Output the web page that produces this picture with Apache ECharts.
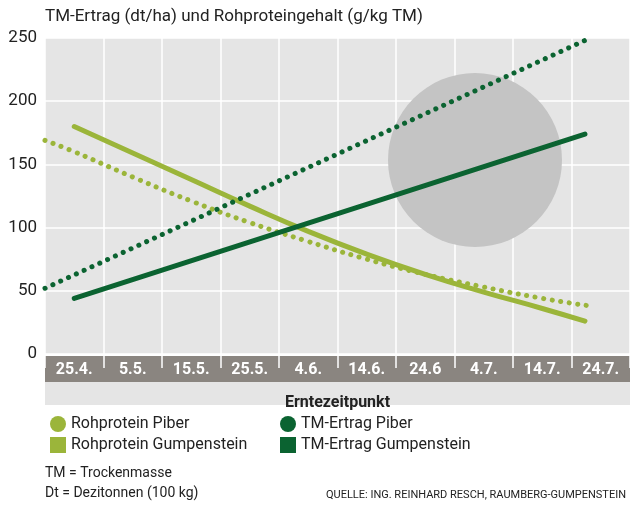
<!DOCTYPE html>
<html>
<head>
<meta charset="utf-8">
<script src="https://cdn.jsdelivr.net/npm/echarts@6/dist/echarts.min.js"></script>
<style>html,body{margin:0;padding:0;background:#fff}#chart{width:636px;height:510px}</style>
</head>
<body>
<div id="chart"></div>
<script>
// Erntezeitpunkte (Kategorien)
var dates = ['25.4.', '5.5.', '15.5.', '25.5.', '4.6.', '14.6.', '24.6', '4.7.', '14.7.', '24.7.'];

// Rohprotein Piber (gepunktet) - Position auf Kategorieachse, Wert
var rpPiberX = [-0.5, 0, 1, 2, 3, 4, 5, 6, 7, 8, 8.82];
var rpPiberY = [169, 160, 140, 121, 104, 89, 75, 63, 53, 44, 38];
// Rohprotein Gumpenstein (durchgezogen)
var rpGumpX = [0, 1, 2, 3, 4, 5, 6, 7, 8, 8.73];
var rpGumpY = [180, 159, 138, 117, 97, 79, 63, 49, 36, 26];
// TM-Ertrag Piber (gepunktet)
var tmPiberX = [-0.5, 8.82];
var tmPiberY = [52, 250];
// TM-Ertrag Gumpenstein (durchgezogen)
var tmGumpX = [0, 8.73];
var tmGumpY = [44, 174];

var light = '#9bb53a';
var dark = '#0b6331';
var font = 'Roboto';

function pairs(xs, ys) {
    return xs.map(function (x, i) { return [x, ys[i]]; });
}

var chart = echarts.init(document.getElementById('chart'));
var option = {
    animation: false,
    textStyle: { fontFamily: font },
    grid: {
        left: 45, right: 6, top: 38, bottom: 156,
        show: true, backgroundColor: '#e5e5e5', borderWidth: 0
    },
    graphic: [
        // Hintergrund-Baum (vereinfacht)
        { type: 'circle', shape: { cx: 475, cy: 160, r: 87 }, style: { fill: '#c4c4c4' }, z: 1 },
        { type: 'rect', shape: { x: 45, y: 356, width: 585, height: 26 }, style: { fill: '#8a8580' }, z: -1 },
        { type: 'rect', shape: { x: 45, y: 382, width: 585, height: 23 }, style: { fill: '#e5e5e5' }, z: -1 },
        { type: 'text', left: 45, top: 8, style: { text: 'TM-Ertrag (dt/ha) und Rohproteingehalt (g/kg TM)', font: '17px ' + font, fill: '#222' } },
        { type: 'text', left: 45, top: 466, style: { text: 'TM = Trockenmasse', font: '14px ' + font, fill: '#222' } },
        { type: 'text', left: 45, top: 486, style: { text: 'Dt = Dezitonnen (100 kg)', font: '14px ' + font, fill: '#222' } },
        { type: 'text', right: 10, top: 490, style: { text: 'QUELLE: ING. REINHARD RESCH, RAUMBERG-GUMPENSTEIN', font: '11px ' + font, fill: '#222' } }
    ],
    legend: [{
        left: 45, top: 411, orient: 'vertical', itemGap: 5, itemWidth: 16, itemHeight: 16,
        textStyle: { fontSize: 16, color: '#222', fontFamily: font },
        data: [{ name: 'Rohprotein Piber', icon: 'circle' }, { name: 'Rohprotein Gumpenstein', icon: 'rect' }]
    }, {
        left: 275, top: 411, orient: 'vertical', itemGap: 5, itemWidth: 16, itemHeight: 16,
        textStyle: { fontSize: 16, color: '#222', fontFamily: font },
        data: [{ name: 'TM-Ertrag Piber', icon: 'circle' }, { name: 'TM-Ertrag Gumpenstein', icon: 'rect' }]
    }],
    xAxis: [{
        type: 'category', data: dates, boundaryGap: true, position: 'bottom', offset: 6,
        name: 'Erntezeitpunkt', nameLocation: 'middle', nameGap: 35,
        nameTextStyle: { fontSize: 16, fontWeight: 'bold', color: '#222', fontFamily: font },
        axisLine: { show: false },
        axisTick: { show: true, inside: false, length: 14, lineStyle: { color: '#fff', width: 1.5 } },
        axisLabel: { color: '#fff', fontSize: 16, margin: 2, fontFamily: font, fontWeight: 'bold' },
        splitLine: { show: true, lineStyle: { color: '#fff', width: 1.5 } }
    }, {
        type: 'value', min: -0.5, max: 9.5, show: false
    }],
    yAxis: {
        type: 'value', min: 0, max: 250, interval: 50,
        axisLine: { show: false }, axisTick: { show: false },
        axisLabel: { color: '#222', fontSize: 17, margin: 8, align: 'right', fontFamily: font },
        splitLine: { lineStyle: { color: '#fff', width: 1.5 } }
    },
    series: [{
        name: 'Rohprotein Piber', type: 'line', xAxisIndex: 1, smooth: 0.5, symbol: 'none', z: 5,
        itemStyle: { color: light },
        lineStyle: { color: light, width: 5, type: [0.1, 8.5], cap: 'round' },
        data: pairs(rpPiberX, rpPiberY)
    }, {
        name: 'Rohprotein Gumpenstein', type: 'line', xAxisIndex: 1, smooth: 0.5, symbol: 'none', z: 5,
        itemStyle: { color: light },
        lineStyle: { color: light, width: 5, cap: 'round' },
        data: pairs(rpGumpX, rpGumpY)
    }, {
        name: 'TM-Ertrag Piber', type: 'line', xAxisIndex: 1, symbol: 'none', z: 5,
        itemStyle: { color: dark },
        lineStyle: { color: dark, width: 5, type: [0.1, 8.5], cap: 'round' },
        data: pairs(tmPiberX, tmPiberY)
    }, {
        name: 'TM-Ertrag Gumpenstein', type: 'line', xAxisIndex: 1, symbol: 'none', z: 5,
        itemStyle: { color: dark },
        lineStyle: { color: dark, width: 5, cap: 'round' },
        data: pairs(tmGumpX, tmGumpY)
    }]
};
chart.setOption(option);
</script>
</body>
</html>
